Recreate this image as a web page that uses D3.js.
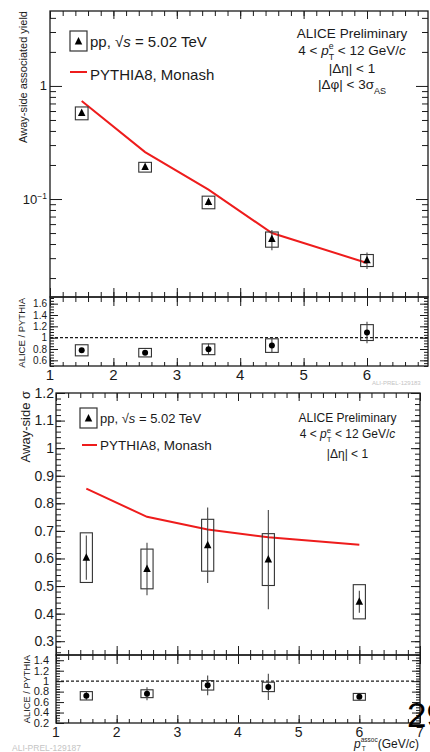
<!DOCTYPE html>
<html><head><meta charset="utf-8">
<script src="https://cdn.jsdelivr.net/npm/d3@7/dist/d3.min.js"></script>
<style>
html,body{margin:0;padding:0;background:#fff;}
svg{display:block;font-family:"Liberation Sans",Arial,Helvetica,sans-serif;}
</style></head><body>
<svg id="c" width="430" height="752"></svg>
<script>
// p_T^assoc bin centres (GeV/c)
const ptAssoc = [1.5, 2.5, 3.5, 4.5, 6];
const ptHalfBox = 0.1;
const xTickValues = [1, 2, 3, 4, 5, 6, 7];

// Away-side associated yield, pp 5.02 TeV
const yieldVal = [0.577, 0.192, 0.094, 0.0443, 0.0288];
const yieldStat = [0.02, 0.006, 0.006, 0.009, 0.0048];
const yieldSys = [0.075, 0.019, 0.012, 0.0068, 0.0035];
const yieldPythia = [0.736, 0.26, 0.121, 0.050, 0.0272];
const yieldRatio = [0.777, 0.735, 0.795, 0.86, 1.09];
const yieldRatioStat = [0.04, 0.04, 0.1, 0.125, 0.19];
const yieldRatioSys = [0.098, 0.075, 0.095, 0.12, 0.14];
const yieldRatioTicks = [0.6, 0.8, 1, 1.2, 1.4, 1.6];

// Away-side width sigma
const sigmaVal = [0.603, 0.562, 0.648, 0.596, 0.443];
const sigmaStat = [0.08, 0.095, 0.137, 0.18, 0.04];
const sigmaSys = [0.09, 0.072, 0.094, 0.094, 0.062];
const sigmaPythia = [0.853, 0.751, 0.705, 0.677, 0.65];
const sigmaTicks = [0.3, 0.4, 0.5, 0.6, 0.7, 0.8, 0.9, 1, 1.1, 1.2];
const sigmaRatio = [0.72, 0.76, 0.92, 0.89, 0.70];
const sigmaRatioStat = [0.08, 0.125, 0.19, 0.25, 0.03];
const sigmaRatioSys = [0.08, 0.075, 0.09, 0.09, 0.065];
const sigmaRatioTicks = [0.2, 0.4, 0.6, 0.8, 1, 1.2, 1.4];

const RED = "#ee1c1c";
const INK = "#1a1a1a";
const svg = d3.select("#c");

function fmt(v) { return d3.format("~g")(v); }
function minorRange(a, b, step) {
  const out = [];
  for (let v = a; v <= b + 1e-9; v += step) out.push(+v.toFixed(4));
  return out;
}

// ROOT-style inward ticks on a rectangular frame
function ticks(axisFn, scale, vals, size, transform) {
  svg.append("g").attr("transform", transform)
    .call(axisFn(scale).tickValues(vals).tickSize(size).tickFormat(""))
    .call(g => g.select(".domain").remove())
    .call(g => g.selectAll("line").attr("stroke", INK).attr("stroke-width", 1));
}
function frame(x0, y0, x1, y1) {
  svg.append("rect").attr("x", x0).attr("y", y0).attr("width", x1 - x0).attr("height", y1 - y0)
    .attr("fill", "none").attr("stroke", INK).attr("stroke-width", 1.3);
}
function xTicksBoth(x, top, bottom, majT, minT, majB, minB) {
  const minors = minorRange(1, 7, 0.2);
  ticks(d3.axisTop, x, minors, -minT, `translate(0,${top})`);
  ticks(d3.axisTop, x, xTickValues, -majT, `translate(0,${top})`);
  ticks(d3.axisBottom, x, minors, -minB, `translate(0,${bottom})`);
  ticks(d3.axisBottom, x, xTickValues, -majB, `translate(0,${bottom})`);
}
function yTicksBoth(y, left, right, major, minor, majL, minL) {
  ticks(d3.axisLeft, y, minor, -minL, `translate(${left},0)`);
  ticks(d3.axisLeft, y, major, -majL, `translate(${left},0)`);
  ticks(d3.axisRight, y, minor, -minL, `translate(${right},0)`);
  ticks(d3.axisRight, y, major, -majL, `translate(${right},0)`);
}
function yLabels(y, vals, xRight, size, fmtFn) {
  svg.append("g").selectAll("text").data(vals).join("text")
    .attr("x", xRight).attr("y", d => y(d)).attr("dy", "0.35em")
    .attr("text-anchor", "end").attr("font-size", size).attr("fill", INK)
    .text(d => (fmtFn || fmt)(d));
}
function xLabels(x, vals, baseline, size) {
  svg.append("g").selectAll("text").data(vals).join("text")
    .attr("x", d => x(d)).attr("y", baseline)
    .attr("text-anchor", "middle").attr("font-size", size).attr("fill", INK)
    .text(d => d);
}
function triangle(cx, cy, s) {
  return `M${cx},${cy - s * 0.6}L${cx + s / 2},${cy + s * 0.4}L${cx - s / 2},${cy + s * 0.4}Z`;
}
function points(x, y, vals, stat, sys, marker) {
  const g = svg.append("g");
  ptAssoc.forEach((p, i) => {
    const v = vals[i];
    g.append("rect")
      .attr("x", x(p - ptHalfBox)).attr("width", x(p + ptHalfBox) - x(p - ptHalfBox))
      .attr("y", y(v + sys[i])).attr("height", y(v - sys[i]) - y(v + sys[i]))
      .attr("fill", "none").attr("stroke", "#333").attr("stroke-width", 1.1);
    g.append("line").attr("x1", x(p)).attr("x2", x(p))
      .attr("y1", y(v + stat[i])).attr("y2", y(v - stat[i]))
      .attr("stroke", "#444").attr("stroke-width", 1.1);
    if (marker === "tri") {
      g.append("path").attr("d", triangle(x(p), y(v), 7.5)).attr("fill", "#000");
    } else {
      g.append("circle").attr("cx", x(p)).attr("cy", y(v)).attr("r", 3).attr("fill", "#000");
    }
  });
}
function unityLine(x, y, x0, x1) {
  svg.append("line").attr("x1", x0).attr("x2", x1).attr("y1", y(1)).attr("y2", y(1))
    .attr("stroke", INK).attr("stroke-width", 1.2).attr("stroke-dasharray", "3,2");
}
function ppLegend(bx, by, tx, base, fs) {
  svg.append("rect").attr("x", bx).attr("y", by).attr("width", 17).attr("height", 20)
    .attr("fill", "none").attr("stroke", "#333").attr("stroke-width", 1.2);
  svg.append("path").attr("d", triangle(bx + 8.5, by + 10.5, 7.5)).attr("fill", "#000");
  const t = svg.append("text").attr("x", tx).attr("y", base).attr("font-size", fs).attr("fill", INK);
  t.append("tspan").text("pp, √");
  t.append("tspan").attr("font-style", "italic").text("s");
  t.append("tspan").text(" = 5.02 TeV");
}
function pythiaLegend(x0, x1, ly, tx, base, fs) {
  svg.append("line").attr("x1", x0).attr("x2", x1).attr("y1", ly).attr("y2", ly)
    .attr("stroke", RED).attr("stroke-width", 2);
  svg.append("text").attr("x", tx).attr("y", base).attr("font-size", fs).attr("fill", INK)
    .text("PYTHIA8, Monash");
}
function ptText(cx, base, fs) {
  const s = fs * 0.65;
  const t = svg.append("text").attr("x", cx).attr("y", base).attr("font-size", fs)
    .attr("text-anchor", "middle").attr("fill", INK);
  t.append("tspan").text("4 < ");
  t.append("tspan").attr("font-style", "italic").text("p");
  t.append("tspan").attr("font-size", s).attr("dy", -fs * 0.42).text("e");
  t.append("tspan").attr("font-size", s).attr("dx", -s * 0.556).attr("dy", fs * 0.78).text("T");
  t.append("tspan").attr("dy", -fs * 0.36).text(" < 12 GeV/");
  t.append("tspan").attr("font-style", "italic").text("c");
}
function plainText(x, y, str, fs, anchor) {
  return svg.append("text").attr("x", x).attr("y", y).attr("font-size", fs)
    .attr("text-anchor", anchor || "middle").attr("fill", INK).text(str);
}
function vTitle(x, yEnd, str, fs) {
  svg.append("text").attr("transform", `translate(${x},${yEnd}) rotate(-90)`)
    .attr("text-anchor", "end").attr("font-size", fs).attr("fill", INK).text(str);
}

/* ---------------- upper figure: associated yield ---------------- */
const xT = d3.scaleLinear([1, 7], [50, 430.4]);
const yT = d3.scaleLog([0.0136, 4.6], [297, 11]);
const yTR = d3.scaleLinear([0.5, 1.7], [366, 298]);
const tRight = 428;

// log ticks
const logMajor = [0.1, 1];
const logMinor = [];
[0.01, 0.1, 1].forEach(d => { for (let k = 2; k <= 9; k++) { const v = d * k; if (v > 0.0136 && v < 4.6) logMinor.push(v); } });

frame(50, 11, tRight, 297);
yTicksBoth(yT, 50, tRight, logMajor, logMinor, 12, 6);
xTicksBoth(xT, 11, 297, 8, 5, 9, 5);
svg.append("text").attr("x", 47).attr("y", yT(1)).attr("dy", "0.35em").attr("text-anchor", "end")
  .attr("font-size", 13).attr("fill", INK).text("1");
const dec = svg.append("text").attr("x", 47).attr("y", yT(0.1)).attr("dy", "0.35em")
  .attr("text-anchor", "end").attr("font-size", 13).attr("fill", INK);
dec.append("tspan").text("10");
dec.append("tspan").attr("font-size", 8.5).attr("dy", -5).text("−1");
vTitle(27, 11, "Away-side associated yield", 11);

svg.append("path").datum(ptAssoc.map((p, i) => [p, yieldPythia[i]]))
  .attr("d", d3.line().x(d => xT(d[0])).y(d => yT(d[1])))
  .attr("fill", "none").attr("stroke", RED).attr("stroke-width", 2);
points(xT, yT, yieldVal, yieldStat, yieldSys, "tri");

ppLegend(70, 31, 90, 47, 15);
pythiaLegend(70, 87, 72, 90, 80, 15);
plainText(352, 38, "ALICE Preliminary", 13.5);
ptText(352, 55, 13.5);
plainText(352, 73, "|Δη| < 1", 13.5);
{
  const t = svg.append("text").attr("x", 352).attr("y", 89).attr("font-size", 13.5)
    .attr("text-anchor", "middle").attr("fill", INK);
  t.append("tspan").text("|Δφ| < 3σ");
  t.append("tspan").attr("font-size", 9).attr("dy", 5).text("AS");
}

// ratio panel
frame(50, 297, tRight, 366);
const rMinor = minorRange(0.5, 1.7, 0.05);
yTicksBoth(yTR, 50, tRight, yieldRatioTicks, rMinor, 8, 4);
xTicksBoth(xT, 297, 366, 9, 5, 8, 4);
unityLine(xT, yTR, 50, tRight);
points(xT, yTR, yieldRatio, yieldRatioStat, yieldRatioSys, "dot");
yLabels(yTR, yieldRatioTicks, 47, 10);
vTitle(25, 298, "ALICE / PYTHIA", 9.5);
// only the labels that fall inside the visible frame
xLabels(xT, xTickValues.filter(v => xT(v) < tRight), 380, 15);
svg.append("text").attr("x", 372).attr("y", 385).attr("font-size", 6).attr("fill", "#c4c4c4")
  .text("ALI-PREL-129183");

/* ---------------- lower figure: away-side width ---------------- */
const xB = d3.scaleLinear([1, 7], [56, 420]);
const yB = d3.scaleLinear([0.25, 1.2], [655, 393]);
const yBR = d3.scaleLinear([0.2, 1.5], [723, 655]);

frame(56, 393, 420, 655);
yTicksBoth(yB, 56, 420, sigmaTicks, minorRange(0.26, 1.2, 0.02), 9, 5);
xTicksBoth(xB, 393, 655, 8, 5, 9, 5);
yLabels(yB, sigmaTicks, 54, 14);
vTitle(30, 391, "Away-side σ", 13);

svg.append("path").datum(ptAssoc.map((p, i) => [p, sigmaPythia[i]]))
  .attr("d", d3.line().x(d => xB(d[0])).y(d => yB(d[1])))
  .attr("fill", "none").attr("stroke", RED).attr("stroke-width", 2);
points(xB, yB, sigmaVal, sigmaStat, sigmaSys, "tri");

ppLegend(80, 408, 100, 423, 13);
pythiaLegend(82, 97, 445, 100, 450, 13.5);
plainText(347.5, 422, "ALICE Preliminary", 12);
ptText(347.5, 438, 12);
plainText(347.5, 458, "|Δη| < 1", 12);

// ratio panel
frame(56, 655, 420, 723);
yTicksBoth(yBR, 56, 420, sigmaRatioTicks, minorRange(0.2, 1.5, 0.05), 8, 4);
xTicksBoth(xB, 655, 723, 9, 5, 8, 4);
unityLine(xB, yBR, 56, 420);
points(xB, yBR, sigmaRatio, sigmaRatioStat, sigmaRatioSys, "dot");
yLabels(yBR, sigmaRatioTicks, 49, 11);
vTitle(30, 655, "ALICE / PYTHIA", 9.3);
xLabels(xB, xTickValues, 737, 14);

{
  const t = svg.append("text").attr("x", 419).attr("y", 748).attr("font-size", 12)
    .attr("text-anchor", "end").attr("fill", INK);
  t.append("tspan").attr("font-style", "italic").text("p");
  t.append("tspan").attr("font-size", 6.5).attr("dy", -6).text("assoc");
  t.append("tspan").attr("font-size", 6.5).attr("dx", -16).attr("dy", 9).text("T");
  t.append("tspan").attr("dx", 12).attr("dy", -3).text("(GeV/");
  t.append("tspan").attr("font-style", "italic").text("c");
  t.append("tspan").text(")");
}
svg.append("text").attr("x", 12).attr("y", 751).attr("font-size", 8.5).attr("fill", "#c4c4c4")
  .text("ALI-PREL-129187");

// slide page number
svg.append("text").attr("x", 407).attr("y", 727).attr("font-size", 35).attr("fill", "#000")
  .text("29");
</script>
</body></html>
